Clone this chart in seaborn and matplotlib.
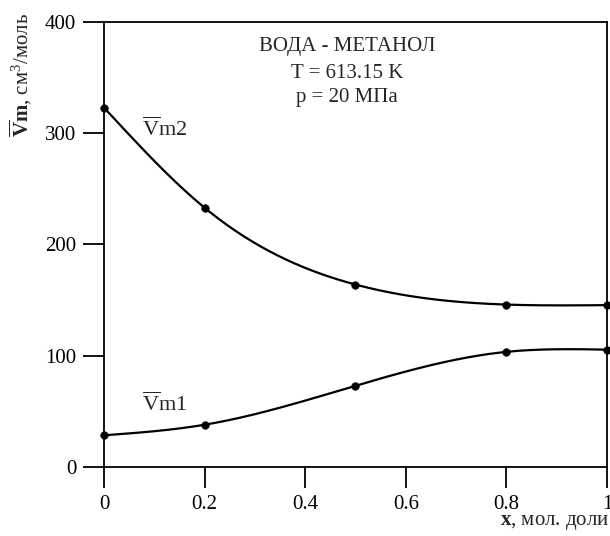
import numpy as np
import pandas as pd
import matplotlib
matplotlib.use("Agg")
import matplotlib.pyplot as plt
import seaborn as sns

x_vals = [0.0, 0.2, 0.5, 0.8, 1.0]
vm1 = [28.5, 38.0, 73.0, 103.5, 105.5]
vm2 = [323.0, 233.0, 164.0, 146.0, 145.5]
x_ticks = [0, 0.2, 0.4, 0.6, 0.8, 1]
x_ticklabels = ["0", "0.2", "0.4", "0.6", "0.8", "1"]
y_ticks = [0, 100, 200, 300, 400]

sns.set_theme(style="white")
plt.rcParams['font.family'] = ['Liberation Serif', 'DejaVu Serif']
plt.rcParams['mathtext.fontset'] = 'custom'
plt.rcParams['mathtext.rm'] = 'Liberation Serif'
plt.rcParams['mathtext.bf'] = 'Liberation Serif:bold'
plt.rcParams['mathtext.it'] = 'Liberation Serif:italic'


def natural_spline(xs, ys, xq):
    xs = np.asarray(xs, float); ys = np.asarray(ys, float)
    n = len(xs)
    h = np.diff(xs)
    A = np.zeros((n, n)); b = np.zeros(n)
    A[0, 0] = 1; A[-1, -1] = 1
    for i in range(1, n - 1):
        A[i, i - 1] = h[i - 1]
        A[i, i] = 2 * (h[i - 1] + h[i])
        A[i, i + 1] = h[i]
        b[i] = 3 * ((ys[i + 1] - ys[i]) / h[i] - (ys[i] - ys[i - 1]) / h[i - 1])
    c = np.linalg.solve(A, b)
    out = np.empty_like(xq)
    for k, xv in enumerate(xq):
        i = min(np.searchsorted(xs, xv, side='right') - 1, n - 2)
        i = max(i, 0)
        bb = (ys[i + 1] - ys[i]) / h[i] - h[i] * (2 * c[i] + c[i + 1]) / 3
        dd = (c[i + 1] - c[i]) / (3 * h[i])
        t = xv - xs[i]
        out[k] = ys[i] + bb * t + c[i] * t ** 2 + dd * t ** 3
    return out


xf = np.linspace(0, 1, 300)
curve = pd.DataFrame({
    'x': np.concatenate([xf, xf]),
    'v': np.concatenate([natural_spline(x_vals, vm1, xf), natural_spline(x_vals, vm2, xf)]),
    's': ['vm1'] * len(xf) + ['vm2'] * len(xf),
})
pts = pd.DataFrame({
    'x': x_vals * 2,
    'v': vm1 + vm2,
    's': ['vm1'] * len(x_vals) + ['vm2'] * len(x_vals),
})

fig = plt.figure(figsize=(6.10, 5.36), dpi=100)
ax = fig.add_axes([0.1705, 0.1287, 0.8245, 0.8303])
sns.lineplot(data=curve, x='x', y='v', units='s', estimator=None, color='black',
             linewidth=1.6, ax=ax, legend=False)
sns.scatterplot(data=pts, x='x', y='v', color='black', s=30, edgecolor='black',
                ax=ax, legend=False, zorder=5, clip_on=False)

ax.set_xlim(0, 1)
ax.set_ylim(0, 400)
ax.set_xticks(x_ticks)
ax.set_xticklabels(x_ticklabels)
ax.set_yticks(y_ticks)
for sp in ax.spines.values():
    sp.set_color('black')
    sp.set_linewidth(1.3)
ax.tick_params(axis='both', direction='out', length=15, width=1.3, colors='black',
               labelsize=15, pad=5, bottom=True, left=True)
ax.set_xlabel('')
ax.set_ylabel('')

fig.text(0.035, 0.86, r'$\mathbf{\overline{V}m}$, см$^3$/моль', rotation=90,
         ha='center', va='center', fontsize=15)
fig.text(0.999, 0.008, r'$\mathbf{x}$, мол. доли', ha='right', va='bottom', fontsize=15)

ax.text(0.483, 0.946, 'ВОДА - МЕТАНОЛ', transform=ax.transAxes, ha='center', va='center', fontsize=15)
ax.text(0.483, 0.885, 'T = 613.15 K', transform=ax.transAxes, ha='center', va='center', fontsize=15)
ax.text(0.483, 0.831, 'p = 20 МПа', transform=ax.transAxes, ha='center', va='center', fontsize=15)
ax.text(0.076, 0.758, r'$\overline{\mathrm{V}}$m2', transform=ax.transAxes,
        ha='left', va='center', fontsize=16)
ax.text(0.076, 0.14, r'$\overline{\mathrm{V}}$m1', transform=ax.transAxes,
        ha='left', va='center', fontsize=16)

fig.savefig('out.png', dpi=100)
